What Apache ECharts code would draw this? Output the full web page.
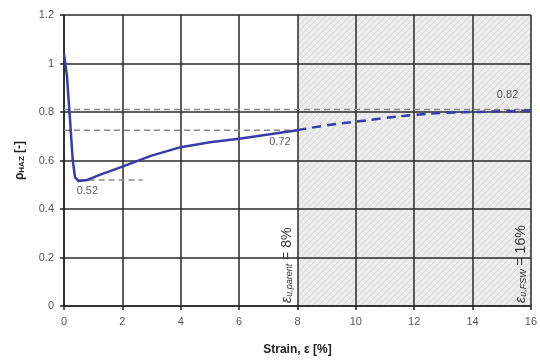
<!DOCTYPE html>
<html>
<head>
<meta charset="utf-8">
<script src="https://cdn.jsdelivr.net/npm/echarts@6/dist/echarts.min.js"></script>
<style>
  html, body { margin: 0; padding: 0; background: #fff; }
  #chart { width: 540px; height: 361px; }
</style>
</head>
<body>
<div id="chart"></div>
<script>
  // measured curve (solid part, up to parent fracture strain)
  const strainMeasured = [0, 0.1, 0.2, 0.3, 0.38, 0.5, 0.8, 1.2, 2, 3, 4, 5, 6, 7, 8];
  const rhoMeasured = [1.04, 0.95, 0.78, 0.6, 0.53, 0.515, 0.52, 0.54, 0.575, 0.62, 0.655, 0.675, 0.69, 0.707, 0.725];
  // extrapolated curve (dashed part)
  const strainExtra = [8, 9, 10, 11, 12, 13, 14, 15, 16];
  const rhoExtra = [0.725, 0.745, 0.76, 0.775, 0.788, 0.796, 0.8, 0.803, 0.806];
  // horizontal reference levels [value, from strain, to strain]
  const refLevels = [[0.81, 0, 16], [0.725, 0, 8], [0.52, 0.5, 2.7]];
  // annotated values
  const noteText = ['0.52', '0.72', '0.82'];
  const notePos = [[0.8, 0.52], [7.4, 0.725], [15.2, 0.81]];
  // fracture strains
  const parentStrain = 8;
  const fswStrain = 16;

  const FONT = 'Liberation Sans';

  function hatch() {
    const c = document.createElement('canvas');
    c.width = 6; c.height = 6;
    const g = c.getContext('2d');
    g.fillStyle = '#ececec';
    g.fillRect(0, 0, 6, 6);
    g.strokeStyle = '#dadada';
    g.lineWidth = 1;
    g.beginPath();
    g.moveTo(0, 6); g.lineTo(6, 0);
    g.moveTo(-1, 1); g.lineTo(1, -1);
    g.moveTo(5, 7); g.lineTo(7, 5);
    g.stroke();
    return c;
  }

  // shade the x intervals beyond the parent fracture strain (2% per band)
  const pattern = { image: hatch(), repeat: 'repeat' };
  const bandColors = [];
  for (let s = 0; s < fswStrain; s += 2) {
    bandColors.push(s >= parentStrain ? pattern : 'rgba(255,255,255,0)');
  }

  const chart = echarts.init(document.getElementById('chart'));

  const series = [];

  refLevels.forEach(function (r) {
    series.push({
      type: 'line',
      data: [[r[1], r[0]], [r[2], r[0]]],
      showSymbol: false,
      silent: true,
      lineStyle: { color: '#8a8a8a', width: 1.5, type: [6, 4] }
    });
  });

  series.push({
    type: 'line',
    data: strainMeasured.map((s, i) => [s, rhoMeasured[i]]),
    showSymbol: false,
    lineStyle: { color: '#3a3aa8', width: 2.5 },
    z: 5
  });
  series.push({
    type: 'line',
    data: strainExtra.map((s, i) => [s, rhoExtra[i]]),
    showSymbol: false,
    smooth: true,
    lineStyle: { color: '#3a3aa8', width: 2.5, type: [9, 6] },
    z: 5
  });

  // value notes
  series.push({
    type: 'scatter',
    symbolSize: 0,
    data: notePos.map((p, i) => ({
      value: p,
      label: {
        show: true,
        position: i === 2 ? 'top' : 'bottom',
        distance: i === 2 ? 9 : 6,
        formatter: noteText[i],
        color: '#333',
        fontSize: 11,
        fontFamily: FONT
      }
    })),
    z: 6
  });

  // vertical texts along 8% and 16%
  const rich = {
    e: { fontSize: 14, fontFamily: FONT, color: '#333', fontStyle: 'italic' },
    s: { fontSize: 9, fontFamily: FONT, color: '#333', fontStyle: 'italic', padding: [5, 0, 0, 0] },
    n: { fontSize: 14, fontFamily: FONT, color: '#333' }
  };
  series.push({
    type: 'line',
    data: [[parentStrain, 0]],
    showSymbol: false,
    silent: true,
    lineStyle: { width: 0 },
    markLine: {
      silent: true,
      symbol: 'none',
      lineStyle: { color: 'rgba(0,0,0,0)', width: 0 },
      label: { show: true, position: 'insideStartTop', distance: 3, rich: rich },
      data: [
        { xAxis: parentStrain, label: { formatter: '{e|ε}{s|u,parent}{n| = ' + parentStrain + '%}' } },
        { xAxis: fswStrain, label: { formatter: '{e|ε}{s|u,FSW}{n| = ' + fswStrain + '%}' } }
      ]
    },
    z: 6
  });

  const option = {
    animation: false,
    backgroundColor: '#ffffff',
    grid: { left: 64, right: 9, top: 15, bottom: 52 },
    xAxis: {
      type: 'value',
      z: 0,
      min: 0,
      max: 16,
      interval: 2,
      name: 'Strain, ε [%]',
      nameLocation: 'middle',
      nameGap: 38,
      nameTextStyle: { fontFamily: FONT, fontSize: 12, fontWeight: 'bold', color: '#222' },
      axisLine: { lineStyle: { color: '#222', width: 1.5 } },
      axisTick: { show: true, length: 4, lineStyle: { color: '#222', width: 1.5 } },
      axisLabel: { fontFamily: FONT, fontSize: 11, color: '#555', margin: 10 },
      splitLine: { show: true, lineStyle: { color: '#2a2a2a', width: 1.5 } },
      splitArea: { show: true, areaStyle: { color: bandColors } }
    },
    yAxis: {
      type: 'value',
      z: 1,
      min: 0,
      max: 1.2,
      interval: 0.2,
      name: 'ρ{s|HAZ} [-]',
      nameLocation: 'middle',
      nameGap: 38,
      nameRotate: 90,
      nameTextStyle: {
        fontFamily: FONT, fontSize: 12, fontWeight: 'bold', color: '#222',
        rich: { s: { fontFamily: FONT, fontSize: 8, fontWeight: 'bold', color: '#222', padding: [5, 0, 0, 0] } }
      },
      axisLine: { show: true, lineStyle: { color: '#222', width: 1.5 } },
      axisTick: { show: true, length: 4, lineStyle: { color: '#222', width: 1.5 } },
      axisLabel: { fontFamily: FONT, fontSize: 11, color: '#555', margin: 10 },
      splitLine: { show: true, lineStyle: { color: '#2a2a2a', width: 1.5 } }
    },
    series: series
  };

  chart.setOption(option);
</script>
</body>
</html>
